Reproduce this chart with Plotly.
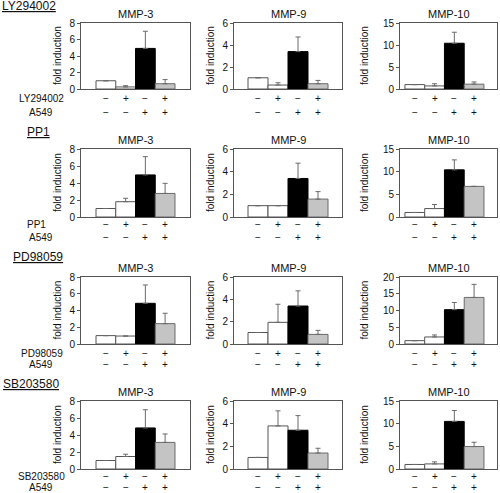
import plotly.graph_objects as go

# ---------------- data ----------------
genes = ["MMP-3", "MMP-9", "MMP-10"]
inhibitors = ["LY294002", "PP1", "PD98059", "SB203580"]
inhibitor_signs = ["−", "+", "−", "+"]
a549_signs = ["−", "−", "+", "+"]
bar_index = [0, 1, 2, 3]

ly_mmp3 = [1.0, 0.25, 4.92, 0.64]
ly_mmp3_err = [None, 0.15, 2.08, 0.5]
ly_mmp9 = [1.02, 0.36, 3.4, 0.48]
ly_mmp9_err = [None, 0.21, 1.33, 0.3]
ly_mmp10 = [1.0, 0.7, 10.4, 1.1]
ly_mmp10_err = [None, 0.5, 2.5, 0.5]

pp1_mmp3 = [1.0, 1.8, 4.95, 2.77]
pp1_mmp3_err = [None, 0.4, 2.15, 1.19]
pp1_mmp9 = [1.0, 1.0, 3.4, 1.58]
pp1_mmp9_err = [None, None, 1.35, 0.66]
pp1_mmp10 = [1.0, 1.86, 10.4, 6.75]
pp1_mmp10_err = [None, 0.89, 2.2, None]

pd_mmp3 = [1.0, 0.95, 4.86, 2.43]
pd_mmp3_err = [None, None, 2.19, 1.24]
pd_mmp9 = [1.03, 1.94, 3.4, 0.86]
pd_mmp9_err = [None, 1.62, 1.36, 0.36]
pd_mmp10 = [1.0, 2.1, 10.25, 13.9]
pd_mmp10_err = [None, 0.6, 2.15, 3.9]

sb_mmp3 = [1.0, 1.47, 4.83, 3.13]
sb_mmp3_err = [None, 0.27, 2.14, 0.99]
sb_mmp9 = [1.02, 3.8, 3.42, 1.41]
sb_mmp9_err = [None, 1.33, 1.29, 0.42]
sb_mmp10 = [1.0, 1.12, 10.5, 4.95]
sb_mmp10_err = [None, 0.46, 2.4, 0.95]

mmp3_ticks = [0, 2, 4, 6, 8]
mmp9_ticks = [0, 2, 4, 6]
mmp10_ticks = [0, 5, 10, 15]
mmp10_ticks_pd = [0, 5, 10, 15, 20]

rows = [
    [(ly_mmp3, ly_mmp3_err, mmp3_ticks), (ly_mmp9, ly_mmp9_err, mmp9_ticks), (ly_mmp10, ly_mmp10_err, mmp10_ticks)],
    [(pp1_mmp3, pp1_mmp3_err, mmp3_ticks), (pp1_mmp9, pp1_mmp9_err, mmp9_ticks), (pp1_mmp10, pp1_mmp10_err, mmp10_ticks)],
    [(pd_mmp3, pd_mmp3_err, mmp3_ticks), (pd_mmp9, pd_mmp9_err, mmp9_ticks), (pd_mmp10, pd_mmp10_err, mmp10_ticks_pd)],
    [(sb_mmp3, sb_mmp3_err, mmp3_ticks), (sb_mmp9, sb_mmp9_err, mmp9_ticks), (sb_mmp10, sb_mmp10_err, mmp10_ticks)],
]

# ---------------- layout geometry (pixels) ----------------
W, H = 500, 493
col_px = [(81, 190), (234, 342), (400, 497)]
col_range = [(-1.26, 4.26), (-1.2, 4.2), (-0.75, 4.16)]
row_px = [(23, 89), (149, 217), (277, 344), (401, 469)]
sign_rows_px = [(99, 112), (224, 237), (353, 364), (476, 487)]
cond_label_x = [41, 36, 42, 41]
group_label = [(0, 6), (25, 132), (11, 257), (1, 384)]
ytitle_x = [57, 210, 364]

def fx(p):
    return p / W

def fy(p):
    return 1 - p / H

fill = ["white", "white", "black", "#c4c4c4"]
edge = ["#555555", "#555555", "#000000", "#6a6a6a"]
FONT = "Liberation Sans, Arial, sans-serif"
TXT = "#111111"

def note(text, x, y, xref="paper", size=10, xanchor="center", angle=0):
    return dict(text=text, x=x, y=y, xref=xref, yref="paper", showarrow=False,
                xanchor=xanchor, yanchor="middle", textangle=angle,
                font=dict(size=size, color=TXT, family=FONT))

fig = go.Figure()
annotations = []
layout_axes = {}

n = 0
for r, row in enumerate(rows):
    for c, (vals, errs, ticks) in enumerate(row):
        n += 1
        xa = "x" if n == 1 else f"x{n}"
        ya = "y" if n == 1 else f"y{n}"
        fig.add_trace(go.Bar(
            x=bar_index, y=vals, width=1,
            marker=dict(color=fill, line=dict(color=edge, width=1)),
            error_y=dict(type="data", symmetric=False, array=errs,
                         arrayminus=[0, 0, 0, 0], color="#6a6a6a",
                         thickness=1, width=2.5),
            xaxis=xa, yaxis=ya, showlegend=False, hoverinfo="y",
        ))
        x0, x1 = col_px[c]
        y0, y1 = row_px[r]
        layout_axes["xaxis" if n == 1 else f"xaxis{n}"] = dict(
            domain=[fx(x0), fx(x1)], anchor=ya, range=list(col_range[c]),
            showticklabels=False, ticks="", showgrid=False, zeroline=False,
            showline=True, mirror=True, linecolor="#555555", linewidth=1,
            fixedrange=True, automargin=False)
        layout_axes["yaxis" if n == 1 else f"yaxis{n}"] = dict(
            domain=[fy(y1), fy(y0)], anchor=xa, range=[0, ticks[-1]],
            tickvals=ticks, ticks="outside", ticklen=3, tickcolor="#555555",
            tickfont=dict(size=10, color=TXT, family=FONT),
            showgrid=False, zeroline=False, showline=True, mirror=True,
            linecolor="#555555", linewidth=1, fixedrange=True, automargin=False)
        annotations.append(note(genes[c], fx((x0 + x1) / 2), fy(y0 - 9), size=11))
        annotations.append(note("fold induction", fx(ytitle_x[c]), fy((y0 + y1) / 2), angle=-90))
        s1, s2 = sign_rows_px[r]
        for i in bar_index:
            annotations.append(note(inhibitor_signs[i], i, fy(s1), xref=xa))
            annotations.append(note(a549_signs[i], i, fy(s2), xref=xa))
    s1, s2 = sign_rows_px[r]
    annotations.append(note(inhibitors[r], fx(cond_label_x[r]), fy(s1)))
    annotations.append(note("A549", fx(41), fy(s2)))
    gx, gy = group_label[r]
    annotations.append(note(f"<u>{inhibitors[r]}</u>", fx(gx), fy(gy), size=12, xanchor="left"))

fig.update_layout(
    width=W, height=H, margin=dict(l=0, r=0, t=0, b=0),
    paper_bgcolor="white", plot_bgcolor="white",
    bargap=0, showlegend=False, annotations=annotations,
    font=dict(family=FONT, color=TXT),
    **layout_axes,
)

fig.write_html("out.html", config={"displayModeBar": False, "staticPlot": True},
               post_script="document.body.style.margin='0';document.body.style.overflow='hidden';")
